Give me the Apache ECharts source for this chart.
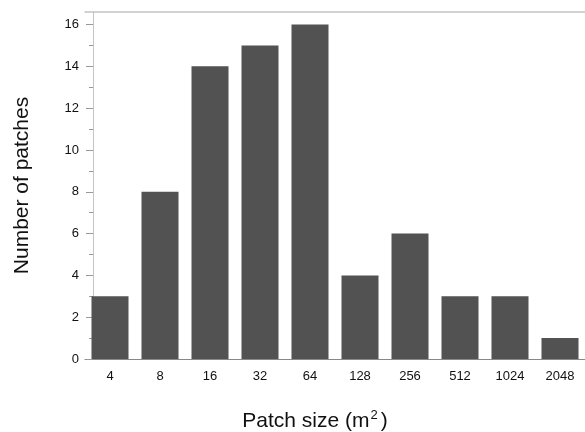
<!DOCTYPE html>
<html><head><meta charset="utf-8">
<script src="https://cdn.jsdelivr.net/npm/echarts@6/dist/echarts.min.js"></script>
<style>html,body{margin:0;padding:0;background:#fff}#c{width:585px;height:432px}</style>
</head><body><div id="c"></div>
<script>
const categories = ['4','8','16','32','64','128','256','512','1024','2048'];
const counts = [3, 8, 14, 15, 16, 4, 6, 3, 3, 1];
const yTicks = [0, 2, 4, 6, 8, 10, 12, 14, 16];

const font = '"Liberation Sans", Arial, Helvetica, sans-serif';
const chart = echarts.init(document.getElementById('c'), null, {renderer: 'canvas'});
chart.setOption({
  animation: false,
  backgroundColor: '#fff',
  title: {
    text: 'Patch size (m{sup|2})',
    left: 310, top: 404, textAlign: 'center',
    textStyle: {
      fontFamily: font, fontSize: 21, fontWeight: 'normal', color: '#111',
      rich: { sup: { fontFamily: font, fontSize: 13, color: '#111', verticalAlign: 'top', padding: [0, 3, 11, 1] } }
    }
  },
  grid: { left: 85, width: 510, top: 12, bottom: 73, containLabel: false },
  xAxis: [{
    type: 'category', data: categories, boundaryGap: true,
    axisLine: { lineStyle: { color: '#888', width: 1 } },
    axisTick: { alignWithLabel: true, length: 4, lineStyle: { color: '#777' } },
    axisLabel: { fontFamily: font, fontSize: 13, color: '#111', margin: 11, interval: 0 }
  }, {
    type: 'category', data: categories, position: 'top',
    axisLine: { show: true, lineStyle: { color: '#c4c4c4', width: 1.5 } },
    axisTick: { show: false }, axisLabel: { show: false }
  }],
  yAxis: {
    type: 'value', min: 0, max: 16.6, interval: 2, offset: -8,
    name: 'Number of patches', nameLocation: 'middle', nameGap: 60,
    nameTextStyle: { fontFamily: font, fontSize: 21, color: '#111' },
    axisLine: { show: true, lineStyle: { color: '#c4c4c4', width: 1 } },
    axisTick: { show: true, length: 7, lineStyle: { color: '#999' }, customValues: yTicks },
    minorTick: { show: true, splitNumber: 2, length: 4, lineStyle: { color: '#999' } },
    axisLabel: { fontFamily: font, fontSize: 13, color: '#111', margin: 14, customValues: yTicks },
    splitLine: { show: false }
  },
  series: [{
    type: 'bar', data: counts, barWidth: '74%',
    itemStyle: { color: '#525252' }
  }]
});
</script></body></html>
